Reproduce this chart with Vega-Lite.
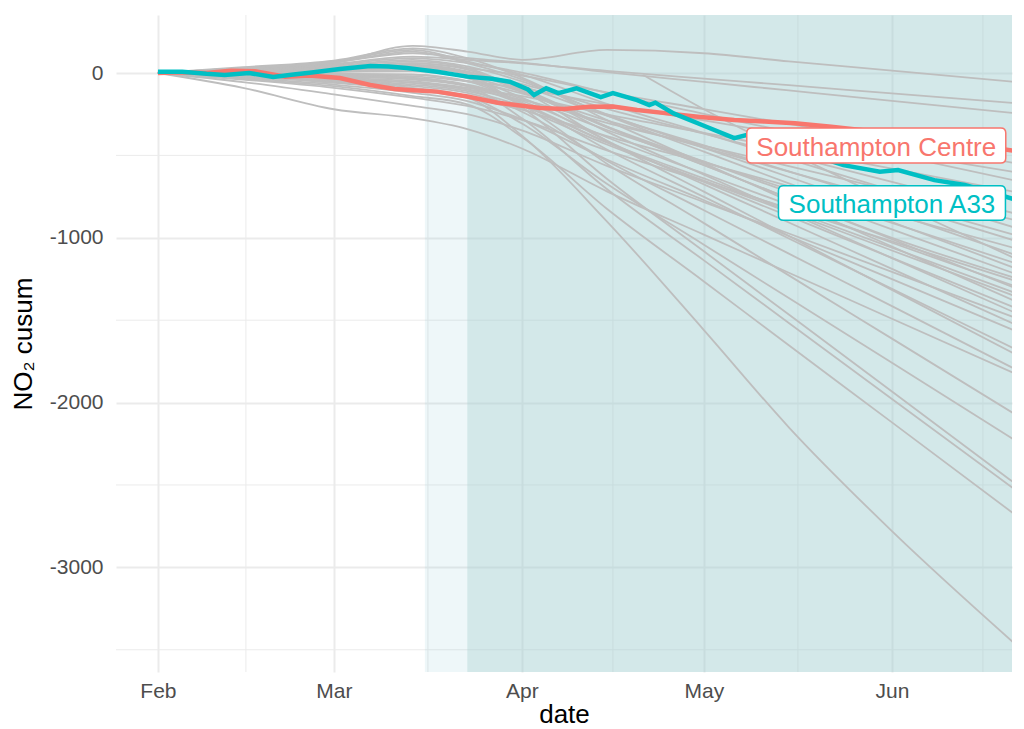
{
"$schema":"https://vega.github.io/schema/vega-lite/v6.json",
"width":896,"height":657,
"autosize":{"type":"none"},
"padding":{"left":116,"top":15,"right":12,"bottom":57},
"background":"white",
"config":{"view":{"stroke":null},"font":"Liberation Sans",
 "axis":{"domain":false,"ticks":false,"gridColor":"#EBEBEB","gridWidth":2,"labelFont":"Liberation Sans","labelFontSize":21,"labelColor":"#4D4D4D","titleFont":"Liberation Sans","titleFontSize":26,"titleColor":"#000000","titleFontWeight":"normal"}},
"datasets":{
"shade":[{"d":"2020-03-16","d2":"2020-06-22","k":"light"},{"d":"2020-03-23","d2":"2020-06-22","k":"dark"}],
"minorx":[{"d":"2020-02-15T12:00:00Z"},{"d":"2020-03-16T12:00:00Z"},{"d":"2020-04-16T00:00:00Z"},{"d":"2020-05-16T12:00:00Z"},{"d":"2020-06-16T00:00:00Z"}],
"minory":[{"v":-500},{"v":-1500},{"v":-2500},{"v":-3500}],
"labels":[{"s":"Southampton Centre","d":"2020-05-29T10:00:00Z","v":-440},{"s":"Southampton A33","d":"2020-06-01T00:00:00Z","v":-789}],
"lines":[
{"s":"g1","d":"2020-02-01","v":0},{"s":"g1","d":"2020-02-15","v":20},{"s":"g1","d":"2020-03-01","v":60},{"s":"g1","d":"2020-03-14","v":165},{"s":"g1","d":"2020-03-23","v":130},{"s":"g1","d":"2020-04-01","v":80},{"s":"g1","d":"2020-04-15","v":140},{"s":"g1","d":"2020-05-01","v":120},{"s":"g1","d":"2020-05-15","v":70},{"s":"g1","d":"2020-06-01","v":15},{"s":"g1","d":"2020-06-21","v":-53},
{"s":"g2","d":"2020-02-01","v":0},{"s":"g2","d":"2020-02-15","v":25},{"s":"g2","d":"2020-03-01","v":55},{"s":"g2","d":"2020-03-14","v":100},{"s":"g2","d":"2020-03-23","v":80},{"s":"g2","d":"2020-04-01","v":59},{"s":"g2","d":"2020-04-15","v":13},{"s":"g2","d":"2020-05-01","v":-34},{"s":"g2","d":"2020-05-15","v":-74},{"s":"g2","d":"2020-06-01","v":-124},{"s":"g2","d":"2020-06-21","v":-182},
{"s":"g3","d":"2020-02-01","v":0},{"s":"g3","d":"2020-02-15","v":30},{"s":"g3","d":"2020-03-01","v":66},{"s":"g3","d":"2020-03-14","v":120},{"s":"g3","d":"2020-03-23","v":90},{"s":"g3","d":"2020-04-01","v":63},{"s":"g3","d":"2020-04-15","v":5},{"s":"g3","d":"2020-05-01","v":-54},{"s":"g3","d":"2020-05-15","v":-106},{"s":"g3","d":"2020-06-01","v":-169},{"s":"g3","d":"2020-06-21","v":-243},
{"s":"g4","d":"2020-02-01","v":0},{"s":"g4","d":"2020-02-15","v":15},{"s":"g4","d":"2020-03-01","v":33},{"s":"g4","d":"2020-03-14","v":60},{"s":"g4","d":"2020-03-23","v":30},{"s":"g4","d":"2020-04-01","v":-16},{"s":"g4","d":"2020-04-15","v":-117},{"s":"g4","d":"2020-05-01","v":-219},{"s":"g4","d":"2020-05-15","v":-309},{"s":"g4","d":"2020-06-01","v":-417},{"s":"g4","d":"2020-06-21","v":-545},
{"s":"g5","d":"2020-02-01","v":0},{"s":"g5","d":"2020-02-15","v":-5},{"s":"g5","d":"2020-03-01","v":-11},{"s":"g5","d":"2020-03-14","v":-20},{"s":"g5","d":"2020-03-23","v":-50},{"s":"g5","d":"2020-04-01","v":-94},{"s":"g5","d":"2020-04-15","v":-191},{"s":"g5","d":"2020-05-01","v":-288},{"s":"g5","d":"2020-05-15","v":-374},{"s":"g5","d":"2020-06-01","v":-478},{"s":"g5","d":"2020-06-21","v":-600},
{"s":"g6","d":"2020-02-01","v":0},{"s":"g6","d":"2020-02-15","v":22},{"s":"g6","d":"2020-03-01","v":50},{"s":"g6","d":"2020-03-14","v":90},{"s":"g6","d":"2020-03-23","v":60},{"s":"g6","d":"2020-04-01","v":3},{"s":"g6","d":"2020-04-15","v":-121},{"s":"g6","d":"2020-05-01","v":-248},{"s":"g6","d":"2020-05-15","v":-358},{"s":"g6","d":"2020-06-01","v":-492},{"s":"g6","d":"2020-06-21","v":-650},
{"s":"g7","d":"2020-02-01","v":0},{"s":"g7","d":"2020-02-15","v":8},{"s":"g7","d":"2020-03-01","v":17},{"s":"g7","d":"2020-03-14","v":30},{"s":"g7","d":"2020-03-23","v":0},{"s":"g7","d":"2020-04-01","v":-68},{"s":"g7","d":"2020-04-15","v":-217},{"s":"g7","d":"2020-05-01","v":-368},{"s":"g7","d":"2020-05-15","v":-501},{"s":"g7","d":"2020-06-01","v":-661},{"s":"g7","d":"2020-06-21","v":-850},
{"s":"g8","d":"2020-02-01","v":0},{"s":"g8","d":"2020-02-15","v":-15},{"s":"g8","d":"2020-03-01","v":-33},{"s":"g8","d":"2020-03-14","v":-60},{"s":"g8","d":"2020-03-23","v":-100},{"s":"g8","d":"2020-04-01","v":-163},{"s":"g8","d":"2020-04-15","v":-302},{"s":"g8","d":"2020-05-01","v":-442},{"s":"g8","d":"2020-05-15","v":-565},{"s":"g8","d":"2020-06-01","v":-714},{"s":"g8","d":"2020-06-21","v":-890},
{"s":"g9","d":"2020-02-01","v":0},{"s":"g9","d":"2020-02-15","v":30},{"s":"g9","d":"2020-03-01","v":70},{"s":"g9","d":"2020-03-14","v":140},{"s":"g9","d":"2020-03-23","v":70},{"s":"g9","d":"2020-04-01","v":-10},{"s":"g9","d":"2020-04-15","v":-187},{"s":"g9","d":"2020-05-01","v":-365},{"s":"g9","d":"2020-05-15","v":-522},{"s":"g9","d":"2020-06-01","v":-712},{"s":"g9","d":"2020-06-21","v":-935},
{"s":"g10","d":"2020-02-01","v":0},{"s":"g10","d":"2020-02-15","v":10},{"s":"g10","d":"2020-03-01","v":22},{"s":"g10","d":"2020-03-14","v":40},{"s":"g10","d":"2020-03-23","v":0},{"s":"g10","d":"2020-04-01","v":-81},{"s":"g10","d":"2020-04-15","v":-259},{"s":"g10","d":"2020-05-01","v":-439},{"s":"g10","d":"2020-05-15","v":-597},{"s":"g10","d":"2020-06-01","v":-789},{"s":"g10","d":"2020-06-21","v":-1014},
{"s":"g11","d":"2020-02-01","v":0},{"s":"g11","d":"2020-02-15","v":-25},{"s":"g11","d":"2020-03-01","v":-55},{"s":"g11","d":"2020-03-14","v":-100},{"s":"g11","d":"2020-03-23","v":-150},{"s":"g11","d":"2020-04-01","v":-223},{"s":"g11","d":"2020-04-15","v":-383},{"s":"g11","d":"2020-05-01","v":-544},{"s":"g11","d":"2020-05-15","v":-686},{"s":"g11","d":"2020-06-01","v":-858},{"s":"g11","d":"2020-06-21","v":-1060},
{"s":"g12","d":"2020-02-01","v":0},{"s":"g12","d":"2020-02-15","v":20},{"s":"g12","d":"2020-03-01","v":44},{"s":"g12","d":"2020-03-14","v":80},{"s":"g12","d":"2020-03-23","v":40},{"s":"g12","d":"2020-04-01","v":-51},{"s":"g12","d":"2020-04-15","v":-251},{"s":"g12","d":"2020-05-01","v":-454},{"s":"g12","d":"2020-05-15","v":-631},{"s":"g12","d":"2020-06-01","v":-847},{"s":"g12","d":"2020-06-21","v":-1100},
{"s":"g13","d":"2020-02-01","v":0},{"s":"g13","d":"2020-02-15","v":-8},{"s":"g13","d":"2020-03-01","v":-16},{"s":"g13","d":"2020-03-14","v":-30},{"s":"g13","d":"2020-03-23","v":-70},{"s":"g13","d":"2020-04-01","v":-156},{"s":"g13","d":"2020-04-15","v":-346},{"s":"g13","d":"2020-05-01","v":-538},{"s":"g13","d":"2020-05-15","v":-706},{"s":"g13","d":"2020-06-01","v":-910},{"s":"g13","d":"2020-06-21","v":-1150},
{"s":"g14","d":"2020-02-01","v":0},{"s":"g14","d":"2020-02-15","v":5},{"s":"g14","d":"2020-03-01","v":11},{"s":"g14","d":"2020-03-14","v":20},{"s":"g14","d":"2020-03-23","v":-20},{"s":"g14","d":"2020-04-01","v":-116},{"s":"g14","d":"2020-04-15","v":-325},{"s":"g14","d":"2020-05-01","v":-537},{"s":"g14","d":"2020-05-15","v":-723},{"s":"g14","d":"2020-06-01","v":-949},{"s":"g14","d":"2020-06-21","v":-1214},
{"s":"g15","d":"2020-02-01","v":0},{"s":"g15","d":"2020-02-15","v":-40},{"s":"g15","d":"2020-03-01","v":-90},{"s":"g15","d":"2020-03-14","v":-150},{"s":"g15","d":"2020-03-23","v":-200},{"s":"g15","d":"2020-04-01","v":-285},{"s":"g15","d":"2020-04-15","v":-470},{"s":"g15","d":"2020-05-01","v":-658},{"s":"g15","d":"2020-05-15","v":-822},{"s":"g15","d":"2020-06-01","v":-1022},{"s":"g15","d":"2020-06-21","v":-1257},
{"s":"g16","d":"2020-02-01","v":0},{"s":"g16","d":"2020-02-15","v":12},{"s":"g16","d":"2020-03-01","v":28},{"s":"g16","d":"2020-03-14","v":50},{"s":"g16","d":"2020-03-23","v":10},{"s":"g16","d":"2020-04-01","v":-95},{"s":"g16","d":"2020-04-15","v":-325},{"s":"g16","d":"2020-05-01","v":-558},{"s":"g16","d":"2020-05-15","v":-761},{"s":"g16","d":"2020-06-01","v":-1009},{"s":"g16","d":"2020-06-21","v":-1300},
{"s":"g17","d":"2020-02-01","v":0},{"s":"g17","d":"2020-02-15","v":-20},{"s":"g17","d":"2020-03-01","v":-44},{"s":"g17","d":"2020-03-14","v":-80},{"s":"g17","d":"2020-03-23","v":-120},{"s":"g17","d":"2020-04-01","v":-218},{"s":"g17","d":"2020-04-15","v":-434},{"s":"g17","d":"2020-05-01","v":-653},{"s":"g17","d":"2020-05-15","v":-844},{"s":"g17","d":"2020-06-01","v":-1077},{"s":"g17","d":"2020-06-21","v":-1350},
{"s":"g18","d":"2020-02-01","v":0},{"s":"g18","d":"2020-02-15","v":35},{"s":"g18","d":"2020-03-01","v":75},{"s":"g18","d":"2020-03-14","v":150},{"s":"g18","d":"2020-03-23","v":90},{"s":"g18","d":"2020-04-01","v":-28},{"s":"g18","d":"2020-04-15","v":-286},{"s":"g18","d":"2020-05-01","v":-547},{"s":"g18","d":"2020-05-15","v":-776},{"s":"g18","d":"2020-06-01","v":-1053},{"s":"g18","d":"2020-06-21","v":-1380},
{"s":"g19","d":"2020-02-01","v":0},{"s":"g19","d":"2020-02-15","v":-10},{"s":"g19","d":"2020-03-01","v":-22},{"s":"g19","d":"2020-03-14","v":-40},{"s":"g19","d":"2020-03-23","v":-80},{"s":"g19","d":"2020-04-01","v":-187},{"s":"g19","d":"2020-04-15","v":-422},{"s":"g19","d":"2020-05-01","v":-661},{"s":"g19","d":"2020-05-15","v":-869},{"s":"g19","d":"2020-06-01","v":-1122},{"s":"g19","d":"2020-06-21","v":-1420},
{"s":"g20","d":"2020-02-01","v":0},{"s":"g20","d":"2020-02-15","v":-55},{"s":"g20","d":"2020-03-01","v":-130},{"s":"g20","d":"2020-03-14","v":-200},{"s":"g20","d":"2020-03-23","v":-250},{"s":"g20","d":"2020-04-01","v":-348},{"s":"g20","d":"2020-04-15","v":-564},{"s":"g20","d":"2020-05-01","v":-783},{"s":"g20","d":"2020-05-15","v":-974},{"s":"g20","d":"2020-06-01","v":-1207},{"s":"g20","d":"2020-06-21","v":-1480},
{"s":"g21","d":"2020-02-01","v":0},{"s":"g21","d":"2020-02-15","v":3},{"s":"g21","d":"2020-03-01","v":6},{"s":"g21","d":"2020-03-14","v":10},{"s":"g21","d":"2020-03-23","v":-30},{"s":"g21","d":"2020-04-01","v":-149},{"s":"g21","d":"2020-04-15","v":-411},{"s":"g21","d":"2020-05-01","v":-676},{"s":"g21","d":"2020-05-15","v":-907},{"s":"g21","d":"2020-06-01","v":-1189},{"s":"g21","d":"2020-06-21","v":-1520},
{"s":"g22","d":"2020-02-01","v":0},{"s":"g22","d":"2020-02-15","v":-30},{"s":"g22","d":"2020-03-01","v":-70},{"s":"g22","d":"2020-03-14","v":-120},{"s":"g22","d":"2020-03-23","v":-170},{"s":"g22","d":"2020-04-01","v":-281},{"s":"g22","d":"2020-04-15","v":-525},{"s":"g22","d":"2020-05-01","v":-772},{"s":"g22","d":"2020-05-15","v":-989},{"s":"g22","d":"2020-06-01","v":-1251},{"s":"g22","d":"2020-06-21","v":-1560},
{"s":"g23","d":"2020-02-01","v":0},{"s":"g23","d":"2020-02-15","v":-3},{"s":"g23","d":"2020-03-01","v":-6},{"s":"g23","d":"2020-03-14","v":-10},{"s":"g23","d":"2020-03-23","v":-50},{"s":"g23","d":"2020-04-01","v":-180},{"s":"g23","d":"2020-04-15","v":-464},{"s":"g23","d":"2020-05-01","v":-752},{"s":"g23","d":"2020-05-15","v":-1004},{"s":"g23","d":"2020-06-01","v":-1310},{"s":"g23","d":"2020-06-21","v":-1670},
{"s":"g24","d":"2020-02-01","v":0},{"s":"g24","d":"2020-02-15","v":18},{"s":"g24","d":"2020-03-01","v":40},{"s":"g24","d":"2020-03-14","v":70},{"s":"g24","d":"2020-03-23","v":30},{"s":"g24","d":"2020-04-01","v":-108},{"s":"g24","d":"2020-04-15","v":-412},{"s":"g24","d":"2020-05-01","v":-720},{"s":"g24","d":"2020-05-15","v":-989},{"s":"g24","d":"2020-06-01","v":-1316},{"s":"g24","d":"2020-06-21","v":-1700},
{"s":"g25","d":"2020-02-01","v":0},{"s":"g25","d":"2020-02-15","v":-15},{"s":"g25","d":"2020-03-01","v":-35},{"s":"g25","d":"2020-03-14","v":-60},{"s":"g25","d":"2020-03-23","v":-100},{"s":"g25","d":"2020-04-01","v":-235},{"s":"g25","d":"2020-04-15","v":-532},{"s":"g25","d":"2020-05-01","v":-833},{"s":"g25","d":"2020-05-15","v":-1096},{"s":"g25","d":"2020-06-01","v":-1415},{"s":"g25","d":"2020-06-21","v":-1791},
{"s":"g26","d":"2020-02-01","v":0},{"s":"g26","d":"2020-02-15","v":-90},{"s":"g26","d":"2020-03-01","v":-220},{"s":"g26","d":"2020-03-14","v":-275},{"s":"g26","d":"2020-03-23","v":-340},{"s":"g26","d":"2020-04-01","v":-458},{"s":"g26","d":"2020-04-15","v":-718},{"s":"g26","d":"2020-05-01","v":-981},{"s":"g26","d":"2020-05-15","v":-1212},{"s":"g26","d":"2020-06-01","v":-1491},{"s":"g26","d":"2020-06-21","v":-1820},
{"s":"g27","d":"2020-02-01","v":0},{"s":"g27","d":"2020-02-15","v":5},{"s":"g27","d":"2020-03-01","v":11},{"s":"g27","d":"2020-03-14","v":20},{"s":"g27","d":"2020-03-23","v":-30},{"s":"g27","d":"2020-04-01","v":-193},{"s":"g27","d":"2020-04-15","v":-550},{"s":"g27","d":"2020-05-01","v":-911},{"s":"g27","d":"2020-05-15","v":-1228},{"s":"g27","d":"2020-06-01","v":-1612},{"s":"g27","d":"2020-06-21","v":-2064},
{"s":"g28","d":"2020-02-01","v":0},{"s":"g28","d":"2020-02-15","v":-22},{"s":"g28","d":"2020-03-01","v":-50},{"s":"g28","d":"2020-03-14","v":-90},{"s":"g28","d":"2020-03-23","v":-140},{"s":"g28","d":"2020-04-01","v":-307},{"s":"g28","d":"2020-04-15","v":-672},{"s":"g28","d":"2020-05-01","v":-1042},{"s":"g28","d":"2020-05-15","v":-1366},{"s":"g28","d":"2020-06-01","v":-1759},{"s":"g28","d":"2020-06-21","v":-2222},
{"s":"g29","d":"2020-02-01","v":0},{"s":"g29","d":"2020-02-15","v":10},{"s":"g29","d":"2020-03-01","v":22},{"s":"g29","d":"2020-03-14","v":40},{"s":"g29","d":"2020-03-23","v":-10},{"s":"g29","d":"2020-04-01","v":-208},{"s":"g29","d":"2020-04-15","v":-642},{"s":"g29","d":"2020-05-01","v":-1082},{"s":"g29","d":"2020-05-15","v":-1466},{"s":"g29","d":"2020-06-01","v":-1933},{"s":"g29","d":"2020-06-21","v":-2483},
{"s":"g30","d":"2020-02-01","v":0},{"s":"g30","d":"2020-02-15","v":-8},{"s":"g30","d":"2020-03-01","v":-16},{"s":"g30","d":"2020-03-14","v":-30},{"s":"g30","d":"2020-03-23","v":-80},{"s":"g30","d":"2020-04-01","v":-275},{"s":"g30","d":"2020-04-15","v":-704},{"s":"g30","d":"2020-05-01","v":-1137},{"s":"g30","d":"2020-05-15","v":-1517},{"s":"g30","d":"2020-06-01","v":-1978},{"s":"g30","d":"2020-06-21","v":-2520},
{"s":"g31","d":"2020-02-01","v":0},{"s":"g31","d":"2020-02-15","v":-35},{"s":"g31","d":"2020-03-01","v":-80},{"s":"g31","d":"2020-03-14","v":-140},{"s":"g31","d":"2020-03-23","v":-190},{"s":"g31","d":"2020-04-01","v":-389},{"s":"g31","d":"2020-04-15","v":-824},{"s":"g31","d":"2020-05-01","v":-1265},{"s":"g31","d":"2020-05-15","v":-1652},{"s":"g31","d":"2020-06-01","v":-2120},{"s":"g31","d":"2020-06-21","v":-2672},
{"s":"g32","d":"2020-02-01","v":0},{"s":"g32","d":"2020-02-15","v":-20},{"s":"g32","d":"2020-03-01","v":-60},{"s":"g32","d":"2020-03-14","v":-100},{"s":"g32","d":"2020-03-23","v":-150},{"s":"g32","d":"2020-04-01","v":-380},{"s":"g32","d":"2020-04-15","v":-900},{"s":"g32","d":"2020-05-01","v":-1560},{"s":"g32","d":"2020-05-15","v":-2150},{"s":"g32","d":"2020-06-01","v":-2780},{"s":"g32","d":"2020-06-21","v":-3455},
{"s":"g33","d":"2020-02-01","v":0},{"s":"g33","d":"2020-02-15","v":-3},{"s":"g33","d":"2020-03-01","v":-5},{"s":"g33","d":"2020-03-14","v":-10},{"s":"g33","d":"2020-03-23","v":-50},{"s":"g33","d":"2020-04-01","v":-124},{"s":"g33","d":"2020-04-15","v":-288},{"s":"g33","d":"2020-05-01","v":-453},{"s":"g33","d":"2020-05-15","v":-598},{"s":"g33","d":"2020-06-01","v":-773},{"s":"g33","d":"2020-06-21","v":-980},
{"s":"g34","d":"2020-02-01","v":0},{"s":"g34","d":"2020-02-15","v":30},{"s":"g34","d":"2020-03-01","v":65},{"s":"g34","d":"2020-03-14","v":130},{"s":"g34","d":"2020-03-23","v":60},{"s":"g34","d":"2020-04-01","v":-39},{"s":"g34","d":"2020-04-15","v":-257},{"s":"g34","d":"2020-05-01","v":-477},{"s":"g34","d":"2020-05-15","v":-670},{"s":"g34","d":"2020-06-01","v":-904},{"s":"g34","d":"2020-06-21","v":-1180},
{"s":"g35","d":"2020-02-01","v":0},{"s":"g35","d":"2020-02-15","v":15},{"s":"g35","d":"2020-03-01","v":33},{"s":"g35","d":"2020-03-14","v":60},{"s":"g35","d":"2020-03-23","v":20},{"s":"g35","d":"2020-04-01","v":-98},{"s":"g35","d":"2020-04-15","v":-356},{"s":"g35","d":"2020-05-01","v":-617},{"s":"g35","d":"2020-05-15","v":-846},{"s":"g35","d":"2020-06-01","v":-1123},{"s":"g35","d":"2020-06-21","v":-1450},
{"s":"g36","d":"2020-02-01","v":0},{"s":"g36","d":"2020-02-15","v":-12},{"s":"g36","d":"2020-03-01","v":-28},{"s":"g36","d":"2020-03-14","v":-50},{"s":"g36","d":"2020-03-23","v":-90},{"s":"g36","d":"2020-04-01","v":-140},{"s":"g36","d":"2020-04-15","v":-251},{"s":"g36","d":"2020-05-01","v":-363},{"s":"g36","d":"2020-05-15","v":-461},{"s":"g36","d":"2020-06-01","v":-580},{"s":"g36","d":"2020-06-21","v":-720},
{"s":"g37","d":"2020-04-21","v":-12},{"s":"g37","d":"2020-05-01","v":-220},{"s":"g37","d":"2020-05-15","v":-480},{"s":"g37","d":"2020-06-01","v":-780},{"s":"g37","d":"2020-06-21","v":-1120},
{"s":"g38","d":"2020-02-01","v":0},{"s":"g38","d":"2020-02-15","v":-6},{"s":"g38","d":"2020-03-01","v":-20},{"s":"g38","d":"2020-03-14","v":-35},{"s":"g38","d":"2020-03-23","v":-75},{"s":"g38","d":"2020-04-01","v":-170},{"s":"g38","d":"2020-04-15","v":-390},{"s":"g38","d":"2020-05-01","v":-610},{"s":"g38","d":"2020-05-15","v":-800},{"s":"g38","d":"2020-06-01","v":-1030},{"s":"g38","d":"2020-06-21","v":-1290},
{"s":"g39","d":"2020-02-01","v":0},{"s":"g39","d":"2020-02-15","v":10},{"s":"g39","d":"2020-03-01","v":25},{"s":"g39","d":"2020-03-14","v":45},{"s":"g39","d":"2020-03-23","v":5},{"s":"g39","d":"2020-04-01","v":-110},{"s":"g39","d":"2020-04-15","v":-330},{"s":"g39","d":"2020-05-01","v":-560},{"s":"g39","d":"2020-05-15","v":-760},{"s":"g39","d":"2020-06-01","v":-1000},{"s":"g39","d":"2020-06-21","v":-1240},
{"s":"g40","d":"2020-02-01","v":0},{"s":"g40","d":"2020-02-15","v":-18},{"s":"g40","d":"2020-03-01","v":-40},{"s":"g40","d":"2020-03-14","v":-70},{"s":"g40","d":"2020-03-23","v":-110},{"s":"g40","d":"2020-04-01","v":-200},{"s":"g40","d":"2020-04-15","v":-420},{"s":"g40","d":"2020-05-01","v":-640},{"s":"g40","d":"2020-05-15","v":-830},{"s":"g40","d":"2020-06-01","v":-1060},{"s":"g40","d":"2020-06-21","v":-1330},
{"s":"Southampton Centre","d":"2020-02-01","v":0},{"s":"Southampton Centre","d":"2020-02-05","v":5},{"s":"Southampton Centre","d":"2020-02-09","v":0},{"s":"Southampton Centre","d":"2020-02-13","v":14},{"s":"Southampton Centre","d":"2020-02-17","v":10},{"s":"Southampton Centre","d":"2020-02-22","v":-22},{"s":"Southampton Centre","d":"2020-02-26","v":-15},{"s":"Southampton Centre","d":"2020-03-02","v":-30},{"s":"Southampton Centre","d":"2020-03-07","v":-73},{"s":"Southampton Centre","d":"2020-03-11","v":-97},{"s":"Southampton Centre","d":"2020-03-14","v":-105},{"s":"Southampton Centre","d":"2020-03-18","v":-113},{"s":"Southampton Centre","d":"2020-03-23","v":-143},{"s":"Southampton Centre","d":"2020-03-28","v":-180},{"s":"Southampton Centre","d":"2020-04-04","v":-213},{"s":"Southampton Centre","d":"2020-04-08","v":-219},{"s":"Southampton Centre","d":"2020-04-12","v":-205},{"s":"Southampton Centre","d":"2020-04-16","v":-204},{"s":"Southampton Centre","d":"2020-04-20","v":-225},{"s":"Southampton Centre","d":"2020-04-25","v":-245},{"s":"Southampton Centre","d":"2020-04-30","v":-265},{"s":"Southampton Centre","d":"2020-05-06","v":-285},{"s":"Southampton Centre","d":"2020-05-11","v":-295},{"s":"Southampton Centre","d":"2020-05-16","v":-305},{"s":"Southampton Centre","d":"2020-05-22","v":-326},{"s":"Southampton Centre","d":"2020-05-28","v":-350},{"s":"Southampton Centre","d":"2020-06-05","v":-390},{"s":"Southampton Centre","d":"2020-06-12","v":-420},{"s":"Southampton Centre","d":"2020-06-18","v":-455},{"s":"Southampton Centre","d":"2020-06-21","v":-472},
{"s":"Southampton A33","d":"2020-02-01","v":8},{"s":"Southampton A33","d":"2020-02-05","v":8},{"s":"Southampton A33","d":"2020-02-09","v":-5},{"s":"Southampton A33","d":"2020-02-12","v":-12},{"s":"Southampton A33","d":"2020-02-16","v":0},{"s":"Southampton A33","d":"2020-02-20","v":-24},{"s":"Southampton A33","d":"2020-02-23","v":-10},{"s":"Southampton A33","d":"2020-02-26","v":2},{"s":"Southampton A33","d":"2020-03-02","v":24},{"s":"Southampton A33","d":"2020-03-07","v":43},{"s":"Southampton A33","d":"2020-03-10","v":40},{"s":"Southampton A33","d":"2020-03-13","v":30},{"s":"Southampton A33","d":"2020-03-18","v":8},{"s":"Southampton A33","d":"2020-03-23","v":-22},{"s":"Southampton A33","d":"2020-03-27","v":-35},{"s":"Southampton A33","d":"2020-03-30","v":-53},{"s":"Southampton A33","d":"2020-04-02","v":-100},{"s":"Southampton A33","d":"2020-04-03","v":-134},{"s":"Southampton A33","d":"2020-04-05","v":-93},{"s":"Southampton A33","d":"2020-04-07","v":-122},{"s":"Southampton A33","d":"2020-04-10","v":-93},{"s":"Southampton A33","d":"2020-04-14","v":-146},{"s":"Southampton A33","d":"2020-04-16","v":-122},{"s":"Southampton A33","d":"2020-04-20","v":-165},{"s":"Southampton A33","d":"2020-04-22","v":-194},{"s":"Southampton A33","d":"2020-04-23","v":-180},{"s":"Southampton A33","d":"2020-04-26","v":-245},{"s":"Southampton A33","d":"2020-05-01","v":-320},{"s":"Southampton A33","d":"2020-05-06","v":-395},{"s":"Southampton A33","d":"2020-05-08","v":-376},{"s":"Southampton A33","d":"2020-05-14","v":-440},{"s":"Southampton A33","d":"2020-05-19","v":-500},{"s":"Southampton A33","d":"2020-05-24","v":-559},{"s":"Southampton A33","d":"2020-05-30","v":-599},{"s":"Southampton A33","d":"2020-06-02","v":-589},{"s":"Southampton A33","d":"2020-06-08","v":-650},{"s":"Southampton A33","d":"2020-06-13","v":-680},{"s":"Southampton A33","d":"2020-06-17","v":-720},{"s":"Southampton A33","d":"2020-06-21","v":-765}
]},
"layer":[
{"data":{"name":"minorx"},"mark":{"type":"rule","color":"#EBEBEB","strokeWidth":1},
 "encoding":{"x":{"field":"d","type":"temporal","title":"date",
   "scale":{"type":"utc","domain":[{"year":2020,"month":1,"date":25,"hours":2,"utc":true},{"year":2020,"month":6,"date":20,"hours":19,"utc":true}]},
   "axis":{"values":[{"year":2020,"month":2,"date":1,"utc":true},{"year":2020,"month":3,"date":1,"utc":true},{"year":2020,"month":4,"date":1,"utc":true},{"year":2020,"month":5,"date":1,"utc":true},{"year":2020,"month":6,"date":1,"utc":true}],"labelExpr":"utcFormat(datum.value, '%b')","labelPadding":8,"titlePadding":0,"grid":true}}}},
{"data":{"name":"minory"},"mark":{"type":"rule","color":"#EBEBEB","strokeWidth":1},
 "encoding":{"y":{"field":"v","type":"quantitative","title":"NO₂ cusum","scale":{"domain":[-3635,352],"nice":false,"zero":false},
   "axis":{"values":[0,-1000,-2000,-3000],"labelExpr":"toString(datum.value)","labelPadding":13,"titlePadding":13,"grid":true}}}},
{"data":{"name":"shade"},"transform":[{"filter":"datum.k === 'light'"}],"mark":{"type":"rect","fill":"#55AFC3","opacity":0.1,"clip":true},
 "encoding":{"x":{"field":"d","type":"temporal"},"x2":{"field":"d2"}}},
{"data":{"name":"shade"},"transform":[{"filter":"datum.k === 'dark'"}],"mark":{"type":"rect","fill":"#A9D1D0","opacity":0.39,"clip":true},
 "encoding":{"x":{"field":"d","type":"temporal"},"x2":{"field":"d2"}}},
{"data":{"name":"lines"},"transform":[{"filter":"datum.s !== 'Southampton Centre' && datum.s !== 'Southampton A33'"}],
 "mark":{"type":"line","color":"#BEBEBE","strokeWidth":1.8,"interpolate":"monotone","clip":true},
 "encoding":{"x":{"field":"d","type":"temporal"},"y":{"field":"v","type":"quantitative"},"detail":{"field":"s"}}},
{"data":{"name":"lines"},"transform":[{"filter":"datum.s === 'Southampton Centre'"}],
 "mark":{"type":"line","color":"#F8766D","strokeWidth":4.5,"clip":true},
 "encoding":{"x":{"field":"d","type":"temporal"},"y":{"field":"v","type":"quantitative"}}},
{"data":{"name":"lines"},"transform":[{"filter":"datum.s === 'Southampton A33'"}],
 "mark":{"type":"line","color":"#00BFC4","strokeWidth":4.5,"clip":true},
 "encoding":{"x":{"field":"d","type":"temporal"},"y":{"field":"v","type":"quantitative"}}},
{"data":{"name":"labels"},"transform":[{"filter":"datum.s === 'Southampton Centre'"}],
 "mark":{"type":"point","shape":"M-0.961,-0.135L0.961,-0.135Q1,-0.135 1,-0.096L1,0.096Q1,0.135 0.961,0.135L-0.961,0.135Q-1,0.135 -1,0.096L-1,-0.096Q-1,-0.135 -0.961,-0.135Z","size":67081,"filled":true,"fill":"white","stroke":"#F8766D","strokeWidth":1.5,"opacity":1},
 "encoding":{"x":{"field":"d","type":"temporal"},"y":{"field":"v","type":"quantitative"}}},
{"data":{"name":"labels"},"transform":[{"filter":"datum.s === 'Southampton A33'"}],
 "mark":{"type":"point","shape":"M-0.956,-0.152L0.956,-0.152Q1,-0.152 1,-0.108L1,0.108Q1,0.152 0.956,0.152L-0.956,0.152Q-1,0.152 -1,0.108L-1,-0.108Q-1,-0.152 -0.956,-0.152Z","size":51529,"filled":true,"fill":"white","stroke":"#00BFC4","strokeWidth":1.5,"opacity":1},
 "encoding":{"x":{"field":"d","type":"temporal"},"y":{"field":"v","type":"quantitative"}}},
{"data":{"name":"labels"},
 "mark":{"type":"text","font":"Liberation Sans","fontSize":26,"align":"center","baseline":"middle","dy":2},
 "encoding":{"x":{"field":"d","type":"temporal"},"y":{"field":"v","type":"quantitative"},"text":{"field":"s"},
  "color":{"field":"s","type":"nominal","scale":{"domain":["Southampton Centre","Southampton A33"],"range":["#F8766D","#00BFC4"]},"legend":null}}}
]
}
